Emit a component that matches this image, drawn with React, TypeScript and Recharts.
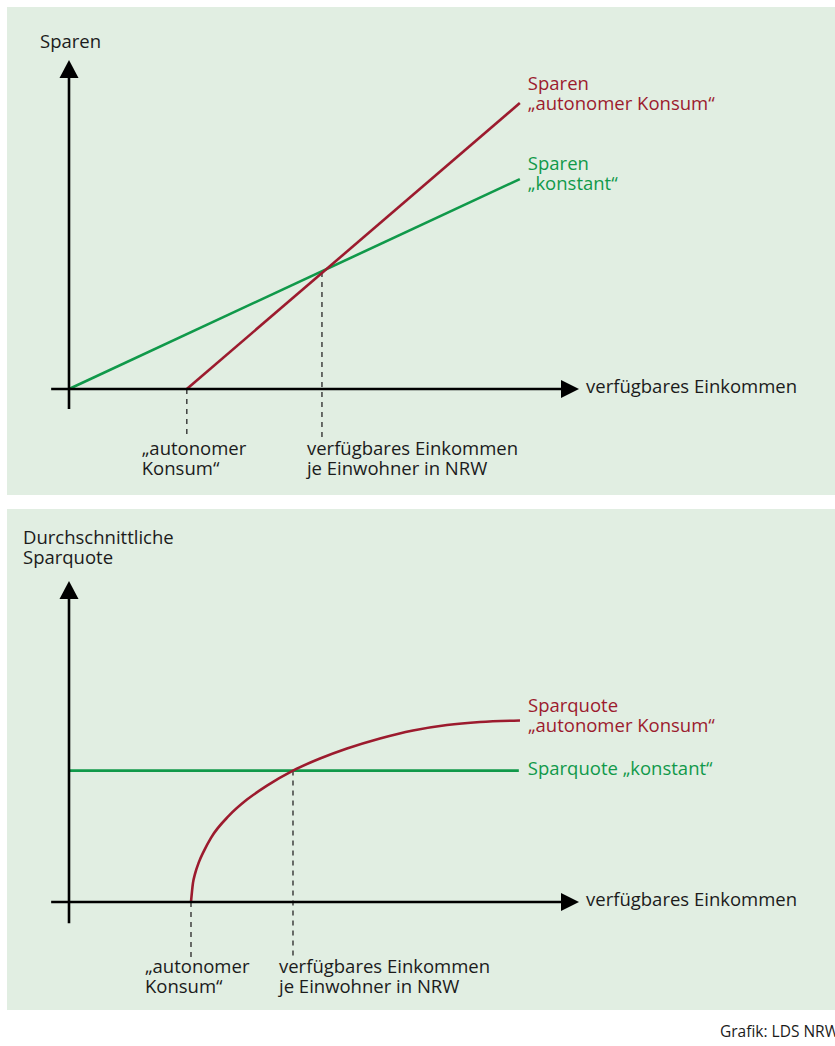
import React from "react";
import { LineChart, Line, XAxis, YAxis, ReferenceLine, ReferenceDot } from "recharts";

// obere Grafik: Sparen (Einheiten 0..100 auf beiden Achsen)
const sparenKonstantX = [0, 88.4];
const sparenKonstantY = [0, 63.8];
const sparenAutonomX = [23.1, 88.4];
const sparenAutonomY = [0, 86.9];
const autonomOben = 23.1;
const schnittObenX = 49.6;
const schnittObenY = 35.6;

// untere Grafik: durchschnittliche Sparquote
const quoteAutonomX = [23.92, 24.31, 24.71, 25.49, 26.47, 27.84, 31.37, 34.9, 38.82, 43.92, 49.22, 54.51, 60.98, 67.45, 74.12, 80.59, 88.43];
const quoteAutonomY = [0, 5.94, 8.75, 12.5, 15.94, 20.0, 26.9, 31.9, 36.25, 40.94, 44.69, 47.81, 50.94, 53.44, 55.16, 56.09, 56.56];
const quoteKonstantX = [0, 88.2];
const quoteKonstantY = [40.94, 40.94];
const autonomUnten = 23.92;
const schnittUntenX = 43.92;
const schnittUntenY = 40.94;

const titelOben = ["Sparen"];
const titelUnten = ["Durchschnittliche", "Sparquote"];
const xTitel = ["verfügbares Einkommen"];
const autonomLabel = ["„autonomer", "Konsum“"];
const einkommenLabel = ["verfügbares Einkommen", "je Einwohner in NRW"];
const sparenRotLabel = ["Sparen", "„autonomer Konsum“"];
const sparenGruenLabel = ["Sparen", "„konstant“"];
const quoteRotLabel = ["Sparquote", "„autonomer Konsum“"];
const quoteGruenLabel = ["Sparquote „konstant“"];

const RED = "#9c1b2e";
const GREEN = "#10994a";
const INK = "#1b1b1b";
const BG = "#e1eee2";
const FONT = "'Open Sans', 'Noto Sans', sans-serif";

const zip = (xs: number[], ys: number[]) => xs.map((x, i) => ({ x, y: ys[i] }));

function TextMark(props: any) {
  const { cx, cy, lines, dx, dy, fill } = props;
  if (cx == null || cy == null) return null;
  return (
    <text x={cx + dx} y={cy + dy} fill={fill} fontFamily={FONT} fontSize={18.5}>
      {lines.map((l: string, i: number) => (
        <tspan key={i} x={cx + dx} dy={i === 0 ? 0 : 20}>
          {l}
        </tspan>
      ))}
    </text>
  );
}

const arrowRight = (p: any) => (
  <polygon points={`${p.cx},${p.cy} ${p.cx - 18},${p.cy - 9} ${p.cx - 18},${p.cy + 9}`} fill="#000" />
);
const arrowUp = (p: any) => (
  <polygon points={`${p.cx},${p.cy} ${p.cx - 9.5},${p.cy + 18} ${p.cx + 9.5},${p.cy + 18}`} fill="#000" />
);

function label(x: number, y: number, lines: string[], dx: number, dy: number, fill = INK) {
  return (
    <ReferenceDot
      x={x}
      y={y}
      r={0}
      ifOverflow="visible"
      shape={(p: any) => <TextMark {...p} lines={lines} dx={dx} dy={dy} fill={fill} />}
    />
  );
}

function dashed(x: number, y1: number, y2: number) {
  return (
    <ReferenceLine
      segment={[{ x, y: y1 }, { x, y: y2 }]}
      stroke="#333"
      strokeWidth={1.4}
      strokeDasharray="5 5"
      ifOverflow="visible"
    />
  );
}

function axes(yLow: number, yTop: number) {
  return [
    <ReferenceLine key="xa" segment={[{ x: -3.5, y: 0 }, { x: 97, y: 0 }]} stroke="#000" strokeWidth={2.6} ifOverflow="visible" />,
    <ReferenceLine key="ya" segment={[{ x: 0, y: yLow }, { x: 0, y: yTop }]} stroke="#000" strokeWidth={2.6} ifOverflow="visible" />,
    <ReferenceDot key="xr" x={100} y={0} r={0} ifOverflow="visible" shape={arrowRight} />,
    <ReferenceDot key="yr" x={0} y={100} r={0} ifOverflow="visible" shape={arrowUp} />,
  ];
}

function SparenChart() {
  return (
    <LineChart width={828} height={488} margin={{ top: 53, right: 256, bottom: 106, left: 62 }}>
      <XAxis type="number" dataKey="x" domain={[0, 100]} hide />
      <YAxis type="number" dataKey="y" domain={[0, 100]} hide />
      {dashed(autonomOben, 0, -14.6)}
      {dashed(schnittObenX, schnittObenY, -14.6)}
      <Line data={zip(sparenKonstantX, sparenKonstantY)} dataKey="y" stroke={GREEN} strokeWidth={2.6} dot={false} isAnimationActive={false} />
      <Line data={zip(sparenAutonomX, sparenAutonomY)} dataKey="y" stroke={RED} strokeWidth={2.6} dot={false} isAnimationActive={false} />
      {axes(-6.1, 95)}
      {label(0, 100, titelOben, -29, -12)}
      {label(100, 0, xTitel, 7, 4)}
      {label(autonomOben, 0, autonomLabel, -45, 66)}
      {label(schnittObenX, 0, einkommenLabel, -15, 66)}
      {label(sparenAutonomX[1], sparenAutonomY[1], sparenRotLabel, 8, -13, RED)}
      {label(sparenKonstantX[1], sparenKonstantY[1], sparenGruenLabel, 8, -9, GREEN)}
    </LineChart>
  );
}

function QuoteChart() {
  return (
    <LineChart width={828} height={501} margin={{ top: 72, right: 256, bottom: 108, left: 62 }}>
      <XAxis type="number" dataKey="x" domain={[0, 100]} hide />
      <YAxis type="number" dataKey="y" domain={[0, 100]} hide />
      {dashed(autonomUnten, 0, -17.2)}
      {dashed(schnittUntenX, schnittUntenY, -17.2)}
      <Line data={zip(quoteKonstantX, quoteKonstantY)} dataKey="y" stroke={GREEN} strokeWidth={2.6} dot={false} isAnimationActive={false} />
      <Line data={zip(quoteAutonomX, quoteAutonomY)} dataKey="y" type="monotone" stroke={RED} strokeWidth={2.6} dot={false} isAnimationActive={false} />
      {axes(-6.6, 94.4)}
      {label(0, 100, titelUnten, -46, -37)}
      {label(100, 0, xTitel, 7, 4)}
      {label(autonomUnten, 0, autonomLabel, -46, 71)}
      {label(schnittUntenX, 0, einkommenLabel, -14, 71)}
      {label(quoteAutonomX[quoteAutonomX.length - 1], quoteAutonomY[quoteAutonomY.length - 1], quoteRotLabel, 8, -8, RED)}
      {label(quoteKonstantX[1], quoteKonstantY[1], quoteGruenLabel, 9, 4, GREEN)}
    </LineChart>
  );
}

export default function App() {
  return (
    <div style={{ position: "absolute", left: 0, top: 0, width: 835, height: 1046, background: "#fff", overflow: "hidden" }}>
      <div style={{ position: "absolute", left: 7, top: 7, width: 828, height: 488, background: BG }}>
        <SparenChart />
      </div>
      <div style={{ position: "absolute", left: 7, top: 509, width: 828, height: 501, background: BG }}>
        <QuoteChart />
      </div>
      <div style={{ position: "absolute", left: 720, top: 1020, fontFamily: FONT, fontSize: 15.5, color: INK, whiteSpace: "nowrap" }}>
        Grafik: LDS NRW
      </div>
    </div>
  );
}
